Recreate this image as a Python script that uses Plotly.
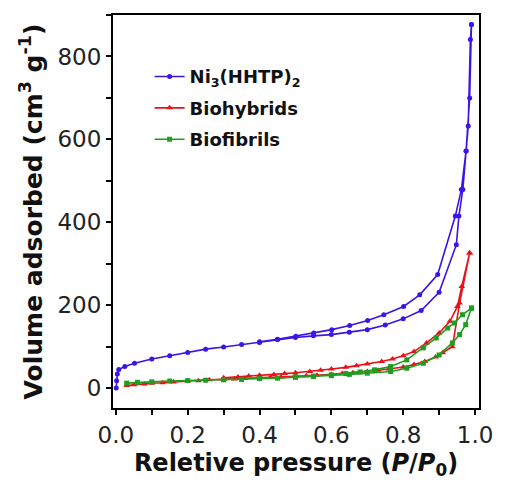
import plotly.graph_objects as go

# Ni3(HHTP)2 adsorption / desorption
ni_ads_x = [0.001, 0.002, 0.004, 0.008, 0.025, 0.052, 0.10, 0.15, 0.20, 0.25, 0.30, 0.35, 0.40, 0.45,
            0.50, 0.55, 0.60, 0.65, 0.70, 0.75, 0.80, 0.85, 0.90, 0.948, 0.955, 0.966, 0.975, 0.981, 0.987, 0.99]
ni_ads_y = [0, 18, 34, 45, 52, 60, 70, 78, 86, 94, 99, 105, 110, 117,
            122, 126, 129, 135, 141, 152, 167, 187, 231, 346, 415, 479, 572, 632, 841, 877]
ni_des_x = [0.99, 0.985, 0.975, 0.962, 0.945, 0.896, 0.846, 0.801, 0.746, 0.701, 0.651, 0.601, 0.551,
            0.501, 0.45, 0.40]
ni_des_y = [877, 700, 572, 479, 415, 274, 225, 197, 177, 163, 151, 141, 133,
            125, 118, 112]

# Biohybrids
bh_ads_x = [0.03, 0.05, 0.08, 0.10, 0.13, 0.16, 0.20, 0.23, 0.26, 0.30, 0.33, 0.36, 0.40, 0.43, 0.46,
            0.50, 0.53, 0.56, 0.60, 0.63, 0.66, 0.70, 0.73, 0.76, 0.80, 0.83, 0.86, 0.89, 0.91, 0.937,
            0.957, 0.985]
bh_ads_y = [6, 8, 10, 12, 13, 15, 17, 18, 20, 21, 22, 23, 25, 26, 27,
            29, 30, 31, 33, 35, 37, 40, 43, 46, 51, 57, 64, 75, 85, 100,
            205, 326]
bh_des_x = [0.985, 0.963, 0.951, 0.93, 0.90, 0.865, 0.83, 0.80, 0.77, 0.74, 0.70, 0.67, 0.64, 0.60,
            0.57, 0.54, 0.50, 0.47, 0.44, 0.40, 0.37, 0.34, 0.30]
bh_des_y = [326, 245, 197, 161, 133, 109, 88, 78, 70, 64, 58, 54, 50, 46,
            43, 40, 37, 35, 33, 31, 29, 27, 25]

# Biofibrils
bf_ads_x = [0.03, 0.06, 0.10, 0.15, 0.20, 0.25, 0.30, 0.35, 0.40, 0.45, 0.50, 0.55, 0.60, 0.65, 0.70,
            0.765, 0.81, 0.856, 0.90, 0.937, 0.957, 0.974, 0.99]
bf_ads_y = [12, 14, 15, 17, 18, 19, 20, 21, 23, 24, 26, 28, 30, 33, 36,
            40, 48, 60, 80, 109, 129, 153, 193]
bf_des_x = [0.99, 0.965, 0.942, 0.924, 0.892, 0.856, 0.81, 0.765, 0.72, 0.68, 0.64, 0.60, 0.55, 0.50]
bf_des_y = [193, 177, 157, 145, 121, 97, 68, 52, 44, 39, 35, 32, 29, 27]

x_ticks = [0.0, 0.2, 0.4, 0.6, 0.8, 1.0]
x_ticklabels = ["0.0", "0.2", "0.4", "0.6", "0.8", "1.0"]
y_ticks = [0, 200, 400, 600, 800]

BLUE = "#3c14e6"
RED = "#e6141a"
GREEN = "#1e9e1e"
FONT = "DejaVu Sans"

fig = go.Figure()

def add(name, xa, ya, xd, yd, color, symbol, size):
    fig.add_trace(go.Scatter(x=xa + xd, y=ya + yd, mode="lines+markers", name=name,
                             legendgroup=name,
                             line=dict(color=color, width=1.6),
                             marker=dict(color=color, symbol=symbol, size=size)))

add("Ni<sub>3</sub>(HHTP)<sub>2</sub>", ni_ads_x, ni_ads_y, ni_des_x, ni_des_y, BLUE, "circle", 5)
add("Biohybrids", bh_ads_x, bh_ads_y, bh_des_x, bh_des_y, RED, "triangle-up", 6)
add("Biofibrils", bf_ads_x, bf_ads_y, bf_des_x, bf_des_y, GREEN, "square", 5)

fig.update_layout(
    width=505, height=486,
    margin=dict(l=113, r=18, t=15, b=78),
    paper_bgcolor="white", plot_bgcolor="white",
    font=dict(family=FONT, color="black"),
    legend=dict(x=0.10, y=0.89, xanchor="left", yanchor="top",
                bgcolor="rgba(0,0,0,0)", traceorder="grouped", tracegroupgap=5,
                font=dict(family=FONT, size=18, color="#111111", weight="bold"),
                itemwidth=30),
    xaxis=dict(range=[-0.008, 1.011], tickvals=x_ticks, ticktext=x_ticklabels,
               showgrid=False, zeroline=False, showline=True, linecolor="black", linewidth=2,
               mirror=True, ticks="outside", ticklen=5, tickwidth=2, tickcolor="black",
               minor=dict(dtick=0.1, ticks="outside", ticklen=5, tickwidth=2, tickcolor="black", showgrid=False),
               tickfont=dict(family=FONT, size=23, color="#222222"),
               title=dict(text="Reletive pressure (<i>P</i>/<i>P</i><sub>0</sub>)",
                          font=dict(family=FONT, size=24, color="#111111", weight="bold"), standoff=8)),
    yaxis=dict(range=[-48, 900], tickvals=y_ticks,
               showgrid=False, zeroline=False, showline=True, linecolor="black", linewidth=2,
               mirror=True, ticks="outside", ticklen=5, tickwidth=2, tickcolor="black",
               minor=dict(dtick=100, ticks="outside", ticklen=5, tickwidth=2, tickcolor="black", showgrid=False),
               tickfont=dict(family=FONT, size=23, color="#222222"),
               title=dict(text="Volume adsorbed (cm<sup>3</sup> g<sup>-1</sup>)",
                          font=dict(family=FONT, size=25, color="#111111", weight="bold"), standoff=8)),
)

fig.write_html("out.html", config={"displayModeBar": False},
               post_script="document.body.style.margin='0';document.body.style.overflow='hidden';")
